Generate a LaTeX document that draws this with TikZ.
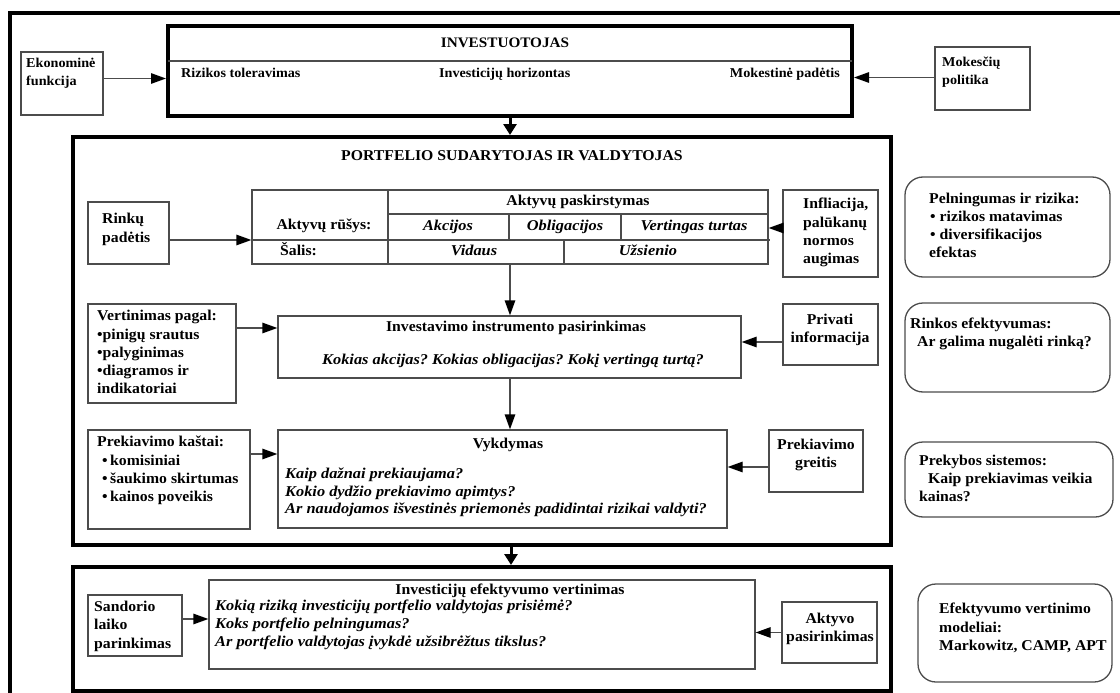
\documentclass[tikz,border=0pt]{standalone}
\usepackage{fontspec}
\setmainfont{Liberation Serif}[FakeStretch=1.05, BoldItalicFeatures={FakeStretch=1.09}]
\usetikzlibrary{arrows.meta}
\begin{document}
\begin{tikzpicture}[x=1pt,y=-1pt,
  tbox/.style={draw=black!70, line width=1.3pt, inner sep=0pt},
  kbox/.style={draw=black, line width=4pt, inner sep=0pt},
  rbox/.style={draw=black!70, line width=1.3pt, rounded corners=18pt, inner sep=0pt},
  tarr/.style={draw=black!70, line width=1.3pt, -{Triangle[length=15pt,width=10.5pt,color=black]}},
  karr/.style={draw=black, line width=3pt, -{Triangle[length=11pt,width=13pt]}},
  lbl/.style={inner sep=0pt, text height=11pt, text depth=3.5pt, font=\fontsize{15}{18}\selectfont\bfseries\frenchspacing},
  qlbl/.style={lbl, font=\fontsize{15}{18}\selectfont\bfseries\itshape\frenchspacing},
  slbl/.style={lbl, text height=10pt, text depth=3pt, font=\fontsize{13.5}{16}\selectfont\bfseries\frenchspacing},
  tline/.style={draw=black!70, line width=1.3pt}
]
\fill[white] (0,0) rectangle (1120,693);
\useasboundingbox (0,0) rectangle (1120,693);
% outer frame
\draw[black, line width=3.5pt] (10,695) -- (10,13) -- (1122,13);

% ---------- top row
\node[tbox, minimum width=82pt, minimum height=63pt] (ekon) at (62,83.5) {};
\node[kbox, minimum width=684pt, minimum height=90pt] (inv) at (510,71) {};
\node[tbox, minimum width=95pt, minimum height=63pt] (mok) at (982.5,78.5) {};
\draw[tline] (168,61) -- (852,61);
\node[lbl, font=\fontsize{14.5}{17}\selectfont\bfseries] (tinv) at (505,44) {INVESTUOTOJAS};
\node[slbl, anchor=west] (trt) at (181,74) {Rizikos toleravimas};
\node[slbl, anchor=west] (tih) at (439,74) {Investicijų horizontas};
\node[slbl, anchor=east] (tmp) at (840,74) {Mokestinė padėtis};
\node[slbl, anchor=west] (tek1) at (26,64) {Ekonominė};
\node[slbl, anchor=west] (tek2) at (26,82) {funkcija};
\node[slbl, anchor=west] (tmk1) at (942,63) {Mokesčių};
\node[slbl, anchor=west] (tmk2) at (942,81) {politika};

% ---------- portfolio box
\node[kbox, minimum width=818pt, minimum height=408pt] (port) at (482,341) {};
\node[lbl] (tport) at (512,157) {PORTFELIO SUDARYTOJAS IR VALDYTOJAS};

\coordinate (axis) at (510,0);
\coordinate (axisb) at (511,0);

% Rinku padetis
\node[tbox, minimum width=81pt, minimum height=62pt] (rink) at (128.5,233) {};
\node[lbl, anchor=west] (trk1) at (102,220) {Rinkų};
\node[lbl, anchor=west] (trk2) at (102,239) {padėtis};

% table
\node[tbox, minimum width=516pt, minimum height=74pt] (tbl) at (510,227) {};
\draw[tline] (388,190) -- (388,264);
\draw[tline] (388,214) -- (768,214);
\draw[tline] (252,240) -- (770,240);
\draw[tline] (509,214) -- (509,240);
\draw[tline] (621,214) -- (621,240);
\draw[tline] (564,240) -- (564,264);
\node[lbl] (tap) at (578,202) {Aktyvų paskirstymas};
\node[lbl] (tar) at (324,226) {Aktyvų rūšys:};
\node[qlbl] (tak) at (448,227) {Akcijos};
\node[qlbl] (tob) at (565,227) {Obligacijos};
\node[qlbl] (tvt) at (694,227) {Vertingas turtas};
\node[lbl, anchor=west] (tsl) at (280,252) {Šalis:};
\node[qlbl] (tvd) at (474,252) {Vidaus};
\node[qlbl] (tuz) at (648,252) {Užsienio};

% Infliacija
\node[tbox, minimum width=95pt, minimum height=87pt] (infl) at (830.5,233.5) {};
\node[lbl, anchor=west] (tin1) at (803,205) {Infliacija,};
\node[lbl, anchor=west] (tin2) at (803,224) {palūkanų};
\node[lbl, anchor=west] (tin3) at (803,242) {normos};
\node[lbl, anchor=west] (tin4) at (803,260) {augimas};

% Vertinimas
\node[tbox, minimum width=148pt, minimum height=99pt] (vert) at (162,353.5) {};
\node[lbl, anchor=west] (tve1) at (97,317) {Vertinimas pagal:};
\node[lbl, anchor=west] (tve2) at (97,336) {•pinigų srautus};
\node[lbl, anchor=west] (tve3) at (97,354) {•palyginimas};
\node[lbl, anchor=west] (tve4) at (97,372) {•diagramos ir};
\node[lbl, anchor=west] (tve5) at (97,390) {indikatoriai};

% Investavimo
\node[tbox, minimum width=463pt, minimum height=62pt] (invest) at (509.5,347) {};
\node[lbl] (tis) at (516,328) {Investavimo instrumento pasirinkimas};
\node[qlbl] (tiq) at (513,361) {Kokias akcijas? Kokias obligacijas? Kokį vertingą turtą?};

% Privati
\node[tbox, minimum width=95pt, minimum height=61pt] (priv) at (830.5,334.5) {};
\node[lbl] (tpr1) at (830,321) {Privati};
\node[lbl] (tpr2) at (830,339) {informacija};

% Vykdymas
\node[tbox, minimum width=449pt, minimum height=98pt] (vyk) at (502.5,479) {};
\node[lbl] (tvy) at (508,445) {Vykdymas};
\node[qlbl, anchor=west] (tvq1) at (285,475) {Kaip dažnai prekiaujama?};
\node[qlbl, anchor=west] (tvq2) at (285,493) {Kokio dydžio prekiavimo apimtys?};
\node[qlbl, anchor=west] (tvq3) at (285,510) {Ar naudojamos išvestinės priemonės padidintai rizikai valdyti?};

% Prekiavimo greitis
\node[tbox, minimum width=94pt, minimum height=62pt] (greit) at (816,461) {};
\node[lbl] (tpg1) at (816,446) {Prekiavimo};
\node[lbl] (tpg2) at (816,464) {greitis};

% Prekiavimo kastai
\node[tbox, minimum width=162pt, minimum height=99pt] (kast) at (169,479.5) {};
\node[lbl, anchor=west] (tpk1) at (97,443) {Prekiavimo kaštai:};
\node[lbl, anchor=west] (tpk2) at (102,462) {•\,komisiniai};
\node[lbl, anchor=west] (tpk3) at (102,480) {•\,šaukimo skirtumas};
\node[lbl, anchor=west] (tpk4) at (102,498) {•\,kainos poveikis};

% ---------- bottom box
\node[kbox, minimum width=818pt, minimum height=124pt] (botb) at (482,629) {};
\node[tbox, minimum width=94pt, minimum height=61pt] (sand) at (135,625.5) {};
\node[lbl, anchor=west] (tsd1) at (94,608) {Sandorio};
\node[lbl, anchor=west] (tsd2) at (94,626) {laiko};
\node[lbl, anchor=west] (tsd3) at (94,645) {parinkimas};

\node[tbox, minimum width=546pt, minimum height=89pt] (efv) at (482,624.5) {};
\node[lbl] (tev) at (510,591) {Investicijų efektyvumo vertinimas};
\node[qlbl, anchor=west] (teq1) at (215,607) {Kokią riziką investicijų portfelio valdytojas prisiėmė?};
\node[qlbl, anchor=west] (teq2) at (215,625) {Koks portfelio pelningumas?};
\node[qlbl, anchor=west] (teq3) at (215,643) {Ar portfelio valdytojas įvykdė užsibrėžtus tikslus?};

\node[tbox, minimum width=95pt, minimum height=61pt] (akt) at (829.5,632.5) {};
\node[lbl] (tak1) at (830,620) {Aktyvo};
\node[lbl] (tak2) at (830,638) {pasirinkimas};

% ---------- right rounded boxes
\node[rbox, minimum width=205pt, minimum height=100pt] (peln) at (1007.5,227) {};
\node[lbl, anchor=west] (tpl1) at (929,200) {Pelningumas ir rizika:};
\node[lbl, anchor=west] (tpl2) at (930,218) {• rizikos matavimas};
\node[lbl, anchor=west] (tpl3) at (930,236) {• diversifikacijos};
\node[lbl, anchor=west] (tpl4) at (929,254) {efektas};

\node[rbox, minimum width=205pt, minimum height=89pt] (rinkef) at (1007.5,347.5) {};
\node[lbl, anchor=west] (tre1) at (910,325) {Rinkos efektyvumas:};
\node[lbl, anchor=west] (tre2) at (917,343) {Ar galima nugalėti rinką?};

\node[rbox, minimum width=208pt, minimum height=75pt] (preks) at (1009,479.5) {};
\node[lbl, anchor=west] (tps1) at (919,462) {Prekybos sistemos:};
\node[lbl, anchor=west] (tps2) at (928,480) {Kaip prekiavimas veikia};
\node[lbl, anchor=west] (tps3) at (919,498) {kainas?};

\node[rbox, minimum width=194pt, minimum height=98pt] (efmod) at (1015,633) {};
\node[lbl, anchor=west] (tem1) at (939,610) {Efektyvumo vertinimo};
\node[lbl, anchor=west] (tem2) at (939,629) {modeliai:};
\node[lbl, anchor=west] (tem3) at (939,647) {Markowitz, CAMP, APT};

% ---------- connectors
\coordinate (c1) at ([yshift=5pt]ekon.east);
\draw[tarr] (c1) -- (c1 -| inv.west);
\coordinate (c1b) at ([yshift=1pt]mok.west);
\draw[tarr] (c1b) -- (c1b -| inv.east);
\draw[karr] (inv.south -| axis) -- (port.north -| axis);
\coordinate (c2) at ([yshift=-7pt]rink.east);
\draw[tarr] (c2) -- (c2 -| tbl.west);
\coordinate (c3) at ([yshift=5.5pt]infl.west);
\draw[tarr] (c3) -- (c3 -| tbl.east);
\draw[tarr] (tbl.south) -- (invest.north -| tbl.south);
\coordinate (c4) at ([yshift=25.5pt]vert.east);
\draw[tarr] (c4) -- (c4 -| invest.west);
\coordinate (c5) at ([yshift=-7.5pt]priv.west);
\draw[tarr] (c5) -- (c5 -| invest.east);
\draw[tarr] (invest.south -| axis) -- (vyk.north -| axis);
\coordinate (c6) at ([yshift=25.5pt]kast.east);
\draw[tarr] (c6) -- (c6 -| vyk.west);
\coordinate (c7) at ([yshift=-6pt]greit.west);
\draw[tarr] (c7) -- (c7 -| vyk.east);
\draw[karr] (port.south -| axisb) -- (botb.north -| axisb);
\coordinate (c8) at ([yshift=6.5pt]sand.east);
\draw[tarr] (c8) -- (c8 -| efv.west);
\draw[tarr] (akt.west) -- (akt.west -| efv.east);
\end{tikzpicture}
\end{document}
